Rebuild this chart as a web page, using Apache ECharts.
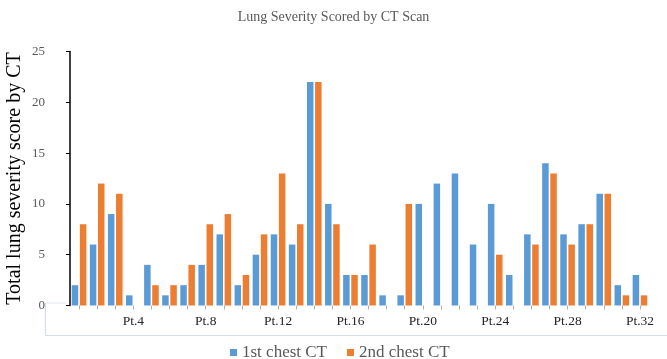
<!DOCTYPE html>
<html>
<head>
<meta charset="utf-8">
<script src="https://cdn.jsdelivr.net/npm/echarts@6/dist/echarts.min.js"></script>
<style>html,body{margin:0;padding:0;background:#fff}#c{width:667px;height:359px}</style>
</head>
<body>
<div id="c"></div>
<script>
var categories = ['Pt.1','Pt.2','Pt.3','Pt.4','Pt.5','Pt.6','Pt.7','Pt.8','Pt.9','Pt.10','Pt.11','Pt.12','Pt.13','Pt.14','Pt.15','Pt.16','Pt.17','Pt.18','Pt.19','Pt.20','Pt.21','Pt.22','Pt.23','Pt.24','Pt.25','Pt.26','Pt.27','Pt.28','Pt.29','Pt.30','Pt.31','Pt.32'];
var firstCT  = [2, 6, 9, 1, 4, 1, 2, 4, 7, 2, 5, 7, 6, 22, 10, 3, 3, 1, 1, 10, 12, 13, 6, 10, 3, 7, 14, 7, 8, 11, 2, 3];
var secondCT = [8, 12, 11, 0, 2, 2, 4, 8, 9, 3, 7, 13, 8, 22, 8, 3, 6, 0, 10, 0, 0, 0, 0, 5, 0, 6, 13, 6, 8, 11, 1, 1];
var yTicks = [0, 5, 10, 15, 20, 25];
var seriesNames = ['1st chest CT', '2nd chest CT'];

var serif = "'Liberation Serif', 'Times New Roman', serif";
var chart = echarts.init(document.getElementById('c'), null, {renderer: 'canvas'});
chart.setOption({
  animation: false,
  color: ['#5B9BD5', '#ED7D31'],
  title: {
    text: 'Lung Severity Scored by CT Scan',
    left: 'center', top: 5,
    textStyle: {fontFamily: serif, fontSize: 14, fontWeight: 'normal', color: '#595959'}
  },
  legend: {
    data: seriesNames,
    top: 339, left: 225,
    icon: 'rect', itemWidth: 7, itemHeight: 7, itemGap: 20,
    textStyle: {fontFamily: serif, fontSize: 17, color: '#595959'}
  },
  grid: {left: 70, right: 18, top: 51.5, bottom: 53.5, containLabel: false, outerBoundsMode: 'none'},
  graphic: [{
    type: 'polyline', silent: true,
    shape: {points: [[45.5, 303], [45.5, 335.5], [667, 335.5]]},
    style: {stroke: '#D5DDE8', lineWidth: 1.2, fill: null}
  }, {
    type: 'line', silent: true,
    shape: {x1: 45.5, y1: 303, x2: 66, y2: 303},
    style: {stroke: '#E3E8EF', lineWidth: 1}
  }],
  xAxis: {
    type: 'category',
    data: categories,
    offset: 6,
    axisLine: {show: false},
    axisTick: {show: true, interval: 0, alignWithLabel: true, length: 4, lineStyle: {color: '#B0B0B0'}},
    axisLabel: {
      interval: function (i) { return i % 4 === 3; },
      margin: 3,
      fontFamily: serif, fontSize: 13.5, color: '#262626'
    },
    splitLine: {show: false}
  },
  yAxis: {
    type: 'value',
    min: yTicks[0], max: yTicks[yTicks.length - 1], interval: 5,
    name: 'Total lung severity score by CT',
    nameLocation: 'middle', nameGap: 45, nameMoveOverlap: false,
    nameTextStyle: {fontFamily: serif, fontSize: 20, color: '#000'},
    axisLine: {show: true, lineStyle: {color: '#000', width: 1.5}},
    axisTick: {show: true, length: 4, lineStyle: {color: '#000'}},
    axisLabel: {margin: 25, fontFamily: serif, fontSize: 13, color: '#595959'},
    splitLine: {show: false}
  },
  series: [{
    name: seriesNames[0], type: 'bar', data: firstCT,
    barWidth: 6.5, barGap: '25%'
  }, {
    name: seriesNames[1], type: 'bar', data: secondCT,
    barWidth: 6.5, barGap: '25%'
  }]
});
</script>
</body>
</html>
